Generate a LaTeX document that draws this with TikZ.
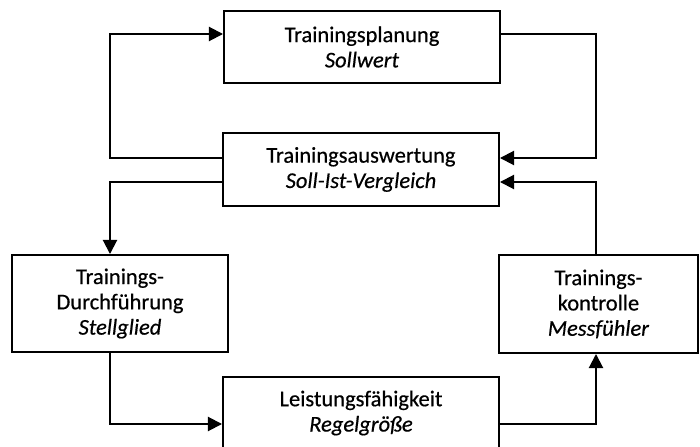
\documentclass[tikz,border=0pt]{standalone}
\usepackage{fontspec}
\setmainfont{Carlito}[FakeBold=0.5]
\usepackage{tikz}
\usetikzlibrary{calc,arrows.meta,positioning}

\begin{document}
\begin{tikzpicture}[x=0.025cm,y=-0.025cm,>={Triangle[length=10pt,width=10pt]},
      font=\fontsize{16}{18}\selectfont,
      block/.style={draw=black,line width=1.4pt,align=center,inner sep=0pt},
      link/.style={line width=1.4pt}]
    \useasboundingbox (0,0) rectangle (700,447);
    \node[block,minimum width=276*0.025cm,minimum height=72*0.025cm] (P) at (362,47) {Trainingsplanung\\\textit{Sollwert}};
    \node[block,minimum width=276*0.025cm,minimum height=73*0.025cm] (A) at (361,169.5) {Trainingsauswertung\\\textit{Soll-Ist-Vergleich}};
    \node[block,minimum width=216*0.025cm,minimum height=97*0.025cm] (D) at (120,303.5) {Trainings-\\Durchführung\\\textit{Stellglied}};
    \node[block,minimum width=199*0.025cm,minimum height=98*0.025cm] (K) at (598.5,304) {Trainings-\\kontrolle\\\textit{Messfühler}};
    \node[block,minimum width=276*0.025cm,minimum height=72*0.025cm] (L) at (361,413) {Leistungsfähigkeit\\\textit{Regelgröße}};
    % Hilfslinien
    \coordinate (xl) at (110,0);
    \coordinate (xr) at (596,0);
    \coordinate (ytop) at (0,34);
    \coordinate (ya) at (0,158);
    \coordinate (yb) at (0,182);
    \coordinate (ybot) at (0,424);
    % Regelkreis
    \draw[->,link] (A.west |- ya) -| (xl |- ytop) -- (P.west |- ytop);
    \draw[->,link] (P.east |- ytop) -| (xr |- ya) -- (A.east |- ya);
    \draw[->,link] (A.west |- yb) -| (xl |- D.north);
    \draw[->,link] (xl |- D.south) |- (L.west |- ybot);
    \draw[->,link] (L.east |- ybot) -| (xr |- K.south);
    \draw[->,link] (xr |- K.north) |- (A.east |- yb);
  \end{tikzpicture}
\end{document}
